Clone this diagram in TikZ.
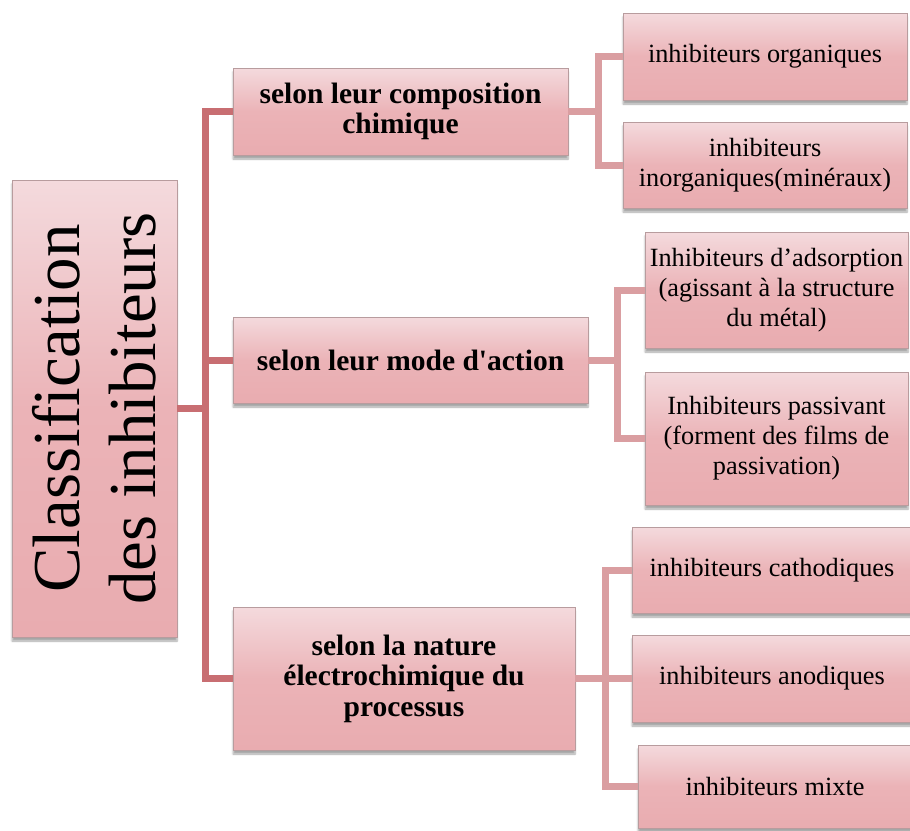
\documentclass[tikz,border=0pt]{standalone}
\usepackage{fontspec}
\setmainfont{Liberation Serif}
\usepackage{xcolor}
\usetikzlibrary{shadows.blur}

\definecolor{boxtop}{HTML}{F4DADD}
\definecolor{boxmid}{HTML}{EBB3B7}
\definecolor{boxbot}{HTML}{E9ACB0}
\definecolor{boxline}{HTML}{B89C9E}
\definecolor{trunkred}{HTML}{C86E72}
\definecolor{branchred}{HTML}{DA9EA1}

\tikzset{
	pinkbox/.style={
			draw=boxline, line width=0.8pt, inner sep=2pt, align=center,
			top color=boxtop, bottom color=boxbot, middle color=boxmid,
			blur shadow={shadow xshift=0pt, shadow yshift=-4pt, shadow opacity=35, shadow blur steps=6}
		},
	catbox/.style={pinkbox, font=\fontsize{29.5}{30.5}\selectfont\bfseries},
	leafbox/.style={pinkbox, font=\fontsize{26.3}{30}\selectfont},
	trunk/.style={draw=trunkred, line width=7pt},
	branch/.style={draw=branchred, line width=7pt}
}

\begin{document}
\begin{tikzpicture}[x=1pt, y=-1pt]
	\useasboundingbox (0,0) rectangle (910,830);

	% Root box with vertical title
	\node[pinkbox, minimum width=165pt, minimum height=457pt] (cls) at (94.5,408.5) {};
	\node[rotate=90, align=center, font=\fontsize{67}{76}\selectfont] (clsText) at (cls.center) {Classification\\des inhibiteurs};

	% Criteria
	\node[catbox, minimum width=335pt, minimum height=87pt] (comp) at (400.5,111.5) {selon leur composition\\chimique};
	\node[catbox, minimum width=355pt, minimum height=86pt] (mode) at (410.5,360) {selon leur mode d\textquotesingle action};
	\node[catbox, minimum width=342pt, minimum height=143pt] (nature) at (404,678.5) {selon la nature\\électrochimique du\\processus};

	% Leaves
	\node[leafbox, minimum width=284pt, minimum height=87pt] (org) at (765,56.5) {inhibiteurs organiques};
	\node[leafbox, minimum width=284pt, minimum height=86pt] (inorg) at (765,165) {inhibiteurs\\inorganiques(minéraux)};
	\node[leafbox, minimum width=263pt, minimum height=116pt] (ads) at (776.5,290) {Inhibiteurs d’adsorption\\(agissant à la structure\\du métal)};
	\node[leafbox, minimum width=263pt, minimum height=133pt] (pas) at (776.5,438.5) {Inhibiteurs passivant\\(forment des films de\\passivation)};
	\node[leafbox, minimum width=280pt, minimum height=86pt] (cath) at (772,570) {inhibiteurs cathodiques};
	\node[leafbox, minimum width=280pt, minimum height=87pt] (ano) at (772,678.5) {inhibiteurs anodiques};
	\node[leafbox, minimum width=274pt, minimum height=83pt] (mixte) at (775,786.5) {inhibiteurs mixte};

	% Main trunk
	\coordinate (hub) at (205,408.5);
	\draw[trunk] (cls.east) -- (hub);
	\draw[trunk] (comp.west) -| (hub) |- (nature.west);
	\draw[trunk] (hub) |- (mode.west);

	% Branches to leaves
	\coordinate (hubA) at (598,111.5);
	\draw[branch] (comp.east) -- (hubA);
	\draw[branch] (org.west) -| (hubA) |- (inorg.west);

	\coordinate (hubB) at (617,360);
	\draw[branch] (mode.east) -- (hubB);
	\draw[branch] (ads.west) -| (hubB) |- (pas.west);

	\coordinate (hubC) at (605,678.5);
	\draw[branch] (nature.east) -- (hubC) -- (ano.west);
	\draw[branch] (cath.west) -| (hubC) |- (mixte.west);
\end{tikzpicture}
\end{document}
